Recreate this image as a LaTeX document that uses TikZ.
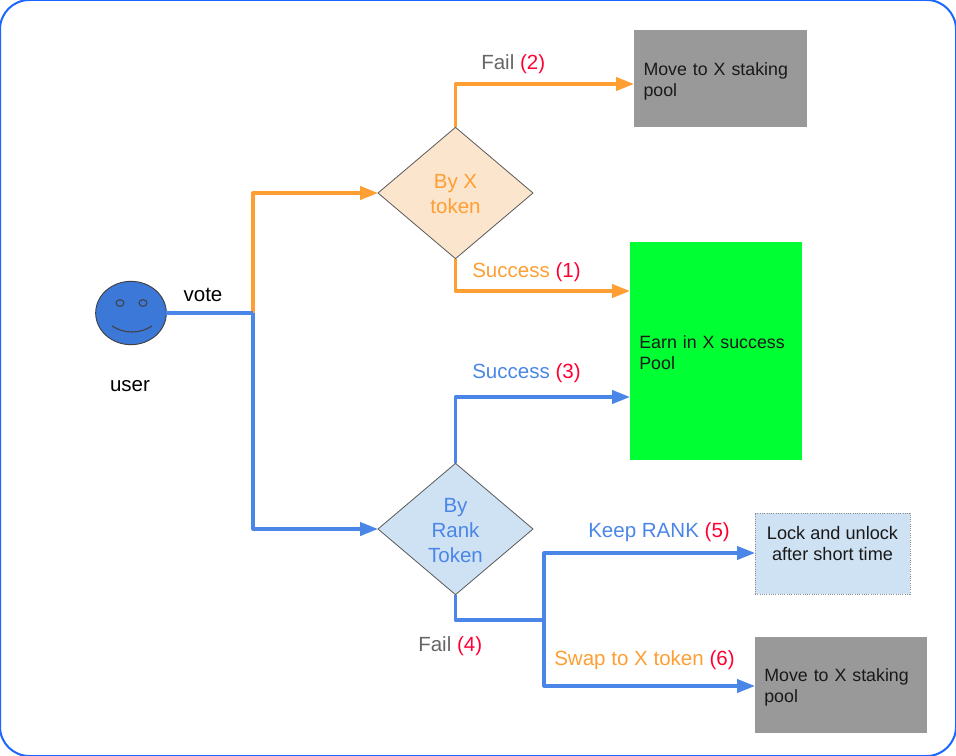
\documentclass[tikz,border=0pt]{standalone}
\usepackage{fontspec}
\setmainfont{Liberation Sans}
\usetikzlibrary{arrows.meta, shapes.geometric}
\definecolor{flowblue}{HTML}{4A86E8}
\definecolor{floworange}{HTML}{FF9E33}
\definecolor{numred}{HTML}{FF0033}
\definecolor{failgrey}{HTML}{666666}
\definecolor{poolgrey}{HTML}{999999}
\definecolor{poolgreen}{HTML}{00FF33}
\definecolor{paleblue}{HTML}{CFE2F3}
\definecolor{paleorange}{HTML}{FCE5CD}
\definecolor{faceblue}{HTML}{3C78D8}
\definecolor{framecol}{HTML}{1A66FF}
\tikzset{
  bigtext/.style={font=\fontsize{15.4}{18.75}\selectfont},
  boxtext/.style={font=\fontsize{13.35}{15.75}\selectfont, text=black!90},
  choice/.style={diamond, draw=black!65, line width=0.6pt, inner sep=0pt, outer sep=0pt,
    minimum width=116.25pt, minimum height=98.5pt, align=center, bigtext},
  pool/.style={rectangle, inner sep=0pt, outer sep=0pt, align=left, boxtext},
  note/.style={anchor=west, inner sep=0pt, bigtext},
  orangeline/.style={->, floworange, line width=2.4pt},
  blueline/.style={->, flowblue, line width=2.4pt},
  bluejoin/.style={flowblue, line width=2.4pt}
}
\newcommand{\num}[1]{\textcolor{numred}{(#1)}}
\begin{document}
\begin{tikzpicture}[x=0.75pt, y=-0.75pt, >={Triangle[length=13.5pt, width=10pt]}, line join=round]
    \useasboundingbox (0,0) rectangle (956,756);
    \draw[framecol, line width=1.5pt, rounded corners=22pt] (0,0) rectangle (956,756);

    %define the face
    \node[ellipse, draw=black!75, fill=faceblue, line width=0.7pt, inner sep=0pt, outer sep=0pt,
          minimum width=53pt, minimum height=47.5pt] (face) at (131,313) {};
    \node[ellipse, draw=black!75, line width=0.8pt, inner sep=0pt,
          minimum width=6pt, minimum height=5pt] (eyeleft) at (120,303) {};
    \node[ellipse, draw=black!75, line width=0.8pt, inner sep=0pt,
          minimum width=6pt, minimum height=5pt] (eyeright) at (143,303) {};
    \coordinate (smileleft) at (112,326);
    \coordinate (smileright) at (152,326);
    \draw[black!75, line width=0.8pt] (smileleft) .. controls (124,334) and (140,334) .. (smileright);
    \node[bigtext, inner sep=0pt] (user) at (130,386.5) {user};
    \node[bigtext, inner sep=0pt] (vote) at (203,294.5) {vote};

    %define the boxes
    \node[choice, fill=paleorange, text=floworange] (byx) at (455.5,193) {\rule{0pt}{11.5pt}By X\\token};
    \node[choice, fill=paleblue, text=flowblue] (byrank) at (455.5,529) {\rule{0pt}{13pt}By\\Rank\\Token};
    \node[pool, fill=poolgrey, minimum width=129.75pt, minimum height=72.75pt,
          text width=115.5pt] (movetop) at (720.5,78.5) {\rule{0pt}{14.5pt}Move to X staking\\pool};
    \node[pool, fill=poolgreen, minimum width=129pt, minimum height=163.5pt,
          text width=115pt] (earn) at (716,351) {\rule{0pt}{11.5pt}Earn in X success\\Pool};
    \node[pool, fill=paleblue, draw=black!45, densely dotted, line width=0.7pt, align=center,
          font=\fontsize{13.6}{15.75}\selectfont,
          minimum width=116.25pt, minimum height=60.75pt] (lock) at (832.5,553.5)
          {Lock and unlock\\after short time\\\mbox{}};
    \node[pool, fill=poolgrey, minimum width=129pt, minimum height=72pt,
          text width=115pt] (movelow) at (841,685) {\rule{0pt}{14pt}Move to X staking\\pool};

    %define the labels
    \node[note, text=failgrey] (failtwo) at (481,64.5) {Fail \num{2}};
    \node[note, text=floworange] (succone) at (472,272.5) {Success \num{1}};
    \node[note, text=flowblue] (succthree) at (472,373.5) {Success \num{3}};
    \node[note, text=flowblue] (keepfive) at (588,532.5) {Keep RANK \num{5}};
    \node[note, text=failgrey] (failfour) at (418,646.5) {Fail \num{4}};
    \node[note, text=floworange] (swapsix) at (554,660.5) {Swap to X token \num{6}};

    %define the joins and arrow ends
    \coordinate (joinvote) at (253,313);
    \coordinate (joinfail) at (544,620);
    \coordinate (endtwo) at (634,84);
    \coordinate (endone) at (630,291);
    \coordinate (endthree) at (630,397);
    \coordinate (endfive) at (755,553);
    \coordinate (endsix) at (755,686);

    %define the links
    \draw[orangeline] (joinvote) |- (byx.west);
    \draw[orangeline] (byx.north) |- (endtwo);
    \draw[orangeline] (byx.south) |- (endone);
    \draw[bluejoin] (face.east) -- (joinvote);
    \draw[blueline] (joinvote) |- (byrank.west);
    \draw[blueline] (byrank.north) |- (endthree);
    \draw[bluejoin] (byrank.south) |- (joinfail);
    \draw[blueline] (joinfail) |- (endfive);
    \draw[blueline] (joinfail) |- (endsix);
\end{tikzpicture}
\end{document}
